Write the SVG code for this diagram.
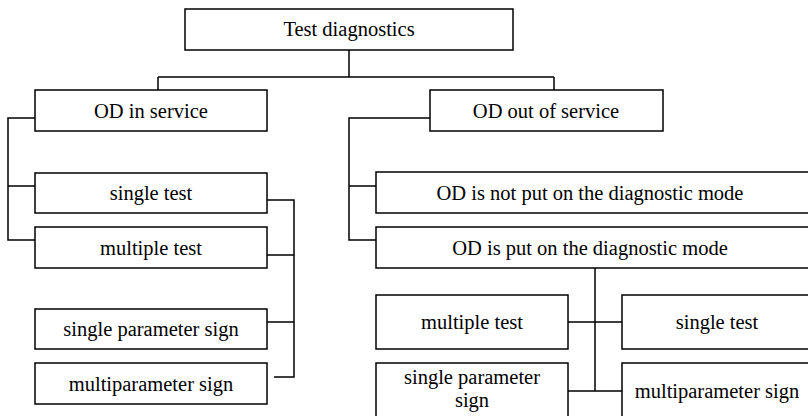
<svg xmlns="http://www.w3.org/2000/svg" width="808" height="416" viewBox="0 0 808 416">
<style>
.box{fill:#fff;stroke:#000;stroke-width:1.5}
.lbl{font-family:'Liberation Serif','Times New Roman',Tinos,'DejaVu Serif',serif;font-size:20.5px;fill:#000;text-anchor:middle}
.con{fill:none;stroke:#000;stroke-width:1.5}
</style>
<rect width="808" height="416" fill="#fff"/>
<g id="connectors">
<path class="con" d="M349 50V77M158 77H554M158 77V90M554 77V90"/>
<path class="con" d="M35 118H8V240H35M8 186H35"/>
<path class="con" d="M267 200H294V377H274M267 255H294M267 322H294"/>
<path class="con" d="M430 118H349V240H376M349 186H376"/>
<path class="con" d="M595 268V391M568 322H622M568 391H622"/>
</g>
<g id="n-root"><rect class="box" x="185" y="9" width="328" height="41"/><text class="lbl" x="349" y="36">Test diagnostics</text></g>
<g id="n-in"><rect class="box" x="35" y="90" width="232" height="41"/><text class="lbl" x="151" y="118">OD in service</text></g>
<g id="n-out"><rect class="box" x="430" y="90" width="233" height="41"/><text class="lbl" x="546" y="118">OD out of service</text></g>
<g id="n-l-single"><rect class="box" x="35" y="173" width="232" height="40"/><text class="lbl" x="151" y="200">single test</text></g>
<g id="n-l-multi"><rect class="box" x="35" y="227" width="232" height="41"/><text class="lbl" x="151" y="255">multiple test</text></g>
<g id="n-l-sps"><rect class="box" x="35" y="309" width="232" height="40"/><text class="lbl" x="151" y="336">single parameter sign</text></g>
<g id="n-l-mps"><rect class="box" x="35" y="363" width="232" height="41"/><text class="lbl" x="151" y="391">multiparameter sign</text></g>
<g id="n-notput"><rect class="box" x="376" y="172" width="436" height="41"/><text class="lbl" x="590" y="200">OD is not put on the diagnostic mode</text></g>
<g id="n-put"><rect class="box" x="376" y="227" width="436" height="41"/><text class="lbl" x="590" y="255">OD is put on the diagnostic mode</text></g>
<g id="n-r-multi"><rect class="box" x="376" y="295" width="192" height="54"/><text class="lbl" x="472" y="329">multiple test</text></g>
<g id="n-r-single"><rect class="box" x="622" y="295" width="190" height="54"/><text class="lbl" x="717" y="329">single test</text></g>
<g id="n-r-sps"><rect class="box" x="376" y="363" width="192" height="60"/><text class="lbl" x="472" y="384">single parameter</text><text class="lbl" x="472" y="407">sign</text></g>
<g id="n-r-mps"><rect class="box" x="622" y="363" width="190" height="60"/><text class="lbl" x="717" y="398">multiparameter sign</text></g>
</svg>
